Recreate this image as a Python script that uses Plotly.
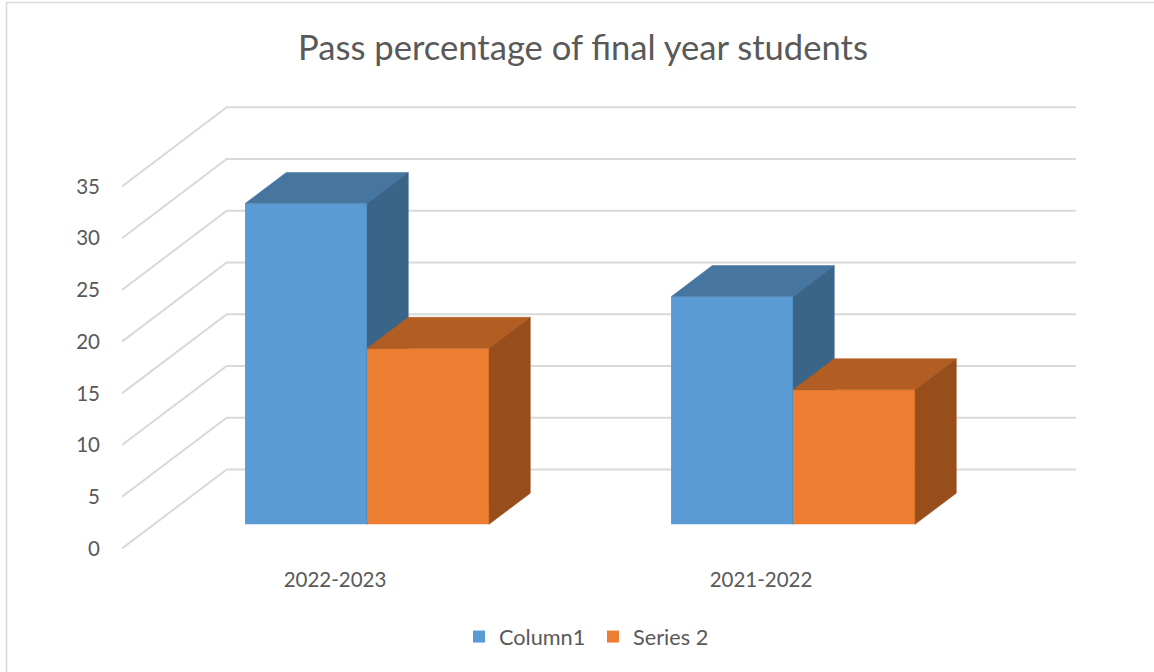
import plotly.graph_objects as go

categories = ["2022-2023", "2021-2022"]
column1 = [31, 22]
series2 = [17, 13]
y_ticks = [0, 5, 10, 15, 20, 25, 30, 35]
title_text = "Pass percentage of final year students"

W, H = 1154, 684
SQUEEZE = 672 / 684  # the photographed page comes out slightly shorter than the layout


def Y(px):
    """Layout pixel that lands on photographed row px."""
    return px / SQUEEZE


# plot rectangle in picture pixels (front-left of the floor to back-right of the wall)
LEFT, RIGHT, BOTTOM, TOP = 122.0, 1076.0, 547.7, 107.7
CAT_PX = 426.0
PX_PER_UNIT = 10.33
DEPTH_X = 104.7 / CAT_PX      # full depth, in category units
DEPTH_Y = 79.0 / PX_PER_UNIT  # full depth, in value units
BAR_FRONT, BAR_BACK = 0.306, 0.70
BAR_W = 122.0 / CAT_PX
HEADROOM = 5.0  # spare pixels above the top gridline so it is not clipped

x_range = [-0.5, -0.5 + (RIGHT - LEFT) / CAT_PX]
y_range = [0, (BOTTOM - TOP + HEADROOM) / PX_PER_UNIT]
x_right_front = x_range[1] - DEPTH_X


def proj(x, v, d):
    """Oblique projection: category x, value v, depth d (0 front, 1 back)."""
    return x + d * DEPTH_X, v + d * DEPTH_Y


GRID = "#D9D9D9"
TEXT = "#595959"
fig = go.Figure()

# grid on floor-side wall and back wall
for t in y_ticks:
    pts = [proj(x_range[0], t, 0), proj(x_range[0], t, 1), proj(x_right_front, t, 1)]
    fig.add_trace(go.Scatter(x=[p[0] for p in pts], y=[p[1] for p in pts], mode="lines",
                             line=dict(color=GRID, width=2), showlegend=False, hoverinfo="skip"))

groups = [
    ("Column1", column1, -BAR_W, "#5B9BD5", "#46759F", "#3A6488", "x2", "y2"),
    ("Series 2", series2, 0.0, "#ED7D31", "#B25D21", "#974E1B", "x3", "y3"),
]
base = BAR_FRONT * DEPTH_Y
for name, vals, off, front, top, side, xa, ya in groups:
    shift = BAR_FRONT * DEPTH_X
    fig.add_trace(go.Bar(x=list(range(len(categories))), y=vals, base=[base] * len(vals),
                         width=BAR_W, offset=off + shift, name=name, marker=dict(color=front, line=dict(width=0)),
                         xaxis=xa, yaxis=ya))
    for i, v in enumerate(vals):
        xl, xr = i + off, i + off + BAR_W
        top_poly = [proj(xl, v, BAR_FRONT), proj(xr, v, BAR_FRONT), proj(xr, v, BAR_BACK), proj(xl, v, BAR_BACK)]
        side_poly = [proj(xr, v, BAR_FRONT), proj(xr, v, BAR_BACK), proj(xr, 0, BAR_BACK), proj(xr, 0, BAR_FRONT)]
        for poly, col in ((top_poly, top), (side_poly, side)):
            poly = poly + poly[:1]
            fig.add_trace(go.Scatter(x=[p[0] for p in poly], y=[p[1] for p in poly], mode="lines",
                                     fill="toself", fillcolor=col, line=dict(color=col, width=0.5),
                                     showlegend=False, hoverinfo="skip", xaxis=xa, yaxis=ya))

x_dom = [LEFT / W, RIGHT / W]
y_dom = [(H - Y(BOTTOM)) / H, (H - Y(TOP - HEADROOM)) / H]
hidden = dict(visible=False, fixedrange=True)
fig.update_layout(
    width=W, height=H, margin=dict(l=0, r=0, t=0, b=0),
    paper_bgcolor="white", plot_bgcolor="rgba(0,0,0,0)",
    font=dict(family="Lato, Carlito, sans-serif", color=TEXT),
    title=dict(text=title_text, x=583 / W, xanchor="center", y=1 - Y(47) / H, yanchor="middle",
               font=dict(size=34.6, color=TEXT)),
    xaxis=dict(domain=x_dom, range=x_range, tickvals=[0, 1], ticktext=categories, showgrid=False,
               zeroline=False, showline=False, ticks="", ticklabelstandoff=17,
               tickfont=dict(size=20.5, color=TEXT), fixedrange=True),
    yaxis=dict(domain=y_dom, range=y_range, tickvals=y_ticks, showgrid=False, zeroline=False,
               showline=False, ticks="", ticklabelstandoff=21,
               tickfont=dict(size=20.5, color=TEXT), fixedrange=True),
    xaxis2=dict(domain=x_dom, range=x_range, overlaying="x", anchor="y2", **hidden),
    yaxis2=dict(domain=y_dom, range=y_range, overlaying="y", anchor="x2", **hidden),
    xaxis3=dict(domain=x_dom, range=x_range, overlaying="x", anchor="y3", **hidden),
    yaxis3=dict(domain=y_dom, range=y_range, overlaying="y", anchor="x3", **hidden),
    barmode="overlay",
    showlegend=True,
    legend=dict(orientation="h", x=459 / W, xanchor="left", y=1 - Y(636) / H, yanchor="middle",
                entrywidth=89, entrywidthmode="pixels", bgcolor="rgba(0,0,0,0)",
                font=dict(size=21.7, color=TEXT), traceorder="normal"),
    shapes=[dict(type="path", xref="paper", yref="paper",
                 path=f"M {6.5 / W} 0 L {6.5 / W} {1 - Y(2.5) / H} L 1 {1 - Y(2.5) / H}",
                 line=dict(color=GRID, width=1.6), layer="below")],
)

fig.write_html("out.html", config={"displayModeBar": False},
               post_script="document.body.style.margin='0';document.body.style.overflow='hidden';")
